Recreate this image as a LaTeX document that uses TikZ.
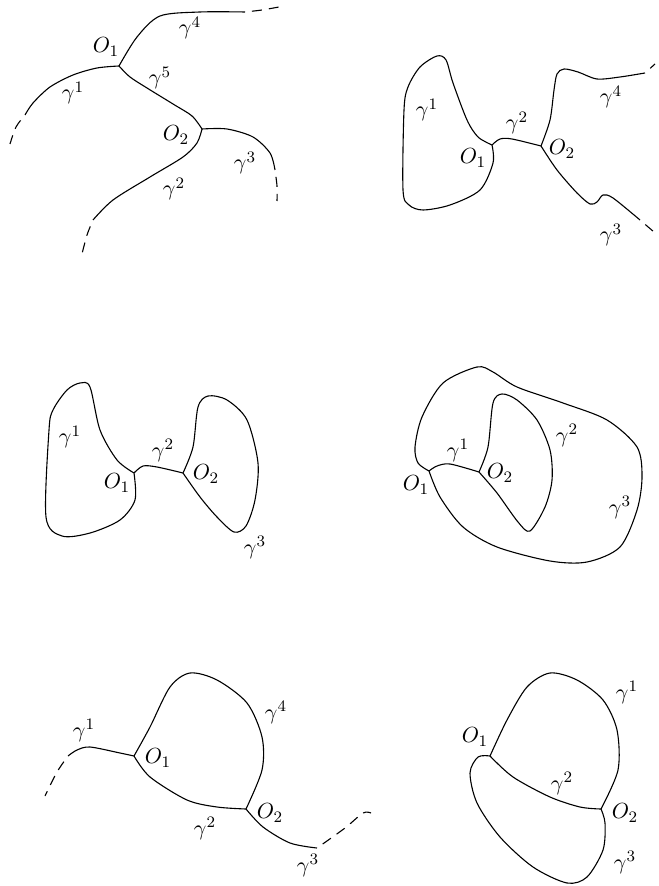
\documentclass[tikz,border=0pt]{standalone}
\usetikzlibrary{positioning}

\begin{document}
\begin{tikzpicture}[
    x=0.5pt, y=-0.5pt,
    curve/.style={line width=0.55pt, line join=round},
    tail/.style={line width=0.55pt, dash pattern=on 5pt off 3.5pt, dash phase=5pt},
    lbl/.style={inner sep=1pt, font=\fontsize{11}{13}\selectfont}
]
    \useasboundingbox (0,0) rectangle (658,886);

    % Top left: two junctions, five arcs
    \coordinate (O1a) at (119,66);
    \coordinate (O2a) at (202,129);
    \coordinate (e1a) at (25,115);
    \coordinate (e2a) at (93,220);
    \coordinate (e3a) at (275,170);
    \coordinate (e4a) at (245,12);
    \draw[curve] plot[smooth] coordinates {(O1a) (137,37) (160,16) (200,12) (e4a)};
    \draw[curve] plot[smooth] coordinates {(O1a) (97,68) (73,75) (50,87) (33,103) (e1a)};
    \draw[curve] plot[smooth] coordinates {(O1a) (130,77) (147,88) (173,104) (192,116) (O2a)};
    \draw[curve] plot[smooth] coordinates {(O2a) (227,129) (253,137) (270,153) (e3a)};
    \draw[curve] plot[smooth] coordinates {(O2a) (197,143) (183,157) (150,177) (113,200) (e2a)};
    \draw[tail] plot[smooth] coordinates {(e4a) (262,10) (279,7)};
    \draw[tail] plot[smooth] coordinates {(e1a) (16,127) (10,144)};
    \draw[tail] plot[smooth] coordinates {(e2a) (87,235) (82,254)};
    \draw[tail] plot[smooth] coordinates {(e3a) (277,186) (277,201)};
    \node[lbl] (o1a) at (106,47) {$O_1$};
    \node[lbl] (o2a) at (176,135) {$O_2$};
    \node[lbl] (g1a) at (73,93) {$\gamma^1$};
    \node[lbl] (g2a) at (174,189) {$\gamma^2$};
    \node[lbl] (g3a) at (245,163) {$\gamma^3$};
    \node[lbl] (g4a) at (190,28) {$\gamma^4$};
    \node[lbl] (g5a) at (160,78) {$\gamma^5$};

    % Top right: a loop at O1, two open arcs at O2
    \coordinate (O1b) at (492,145);
    \coordinate (O2b) at (541,146);
    \coordinate (e3b) at (640,220);
    \coordinate (e4b) at (645,73);
    \draw[curve] plot[smooth] coordinates {(O1b) (478,137) (467,120) (453,83) (446,60) (437,56) (420,67) (408,87) (404,110) (403,190) (409,205) (423,210) (450,205) (480,190) (493,163) (O1b)};
    \draw[curve] plot[smooth] coordinates {(O1b) (500,139) (512,139) (O2b)};
    \draw[curve] plot[smooth] coordinates {(O2b) (550,120) (554,90) (557,74) (564,69) (578,72) (597,79) (620,77) (e4b)};
    \draw[curve] plot[smooth] coordinates {(O2b) (557,170) (577,193) (590,204) (597,202) (603,195) (613,198) (e3b)};
    \draw[tail] (e4b) -- (655,64);
    \draw[tail] (e3b) -- (654,232);
    \node[lbl] (o1b) at (473,158) {$O_1$};
    \node[lbl] (o2b) at (562,149) {$O_2$};
    \node[lbl] (g1b) at (427,110) {$\gamma^1$};
    \node[lbl] (g2b) at (517,123) {$\gamma^2$};
    \node[lbl] (g3b) at (611,235) {$\gamma^3$};
    \node[lbl] (g4b) at (611,97) {$\gamma^4$};

    % Middle left: two loops joined by one arc
    \coordinate (O1c) at (134,473);
    \coordinate (O2c) at (183,473);
    \draw[curve] plot[smooth] coordinates {(O1c) (117,460) (100,430) (90,387) (80,383) (67,390) (53,410) (49,430) (46,517) (62,536) (90,533) (120,520) (135,500) (O1c)};
    \draw[curve] plot[smooth] coordinates {(O1c) (143,466) (157,467) (O2c)};
    \draw[curve] plot[smooth] coordinates {(O2c) (193,447) (198,407) (208,396) (227,400) (247,420) (258,463) (255,500) (246,526) (234,532) (217,517) (200,497) (O2c)};
    \node[lbl] (o1c) at (117,483) {$O_1$};
    \node[lbl] (o2c) at (206,474) {$O_2$};
    \node[lbl] (g1c) at (70,437) {$\gamma^1$};
    \node[lbl] (g2c) at (163,450) {$\gamma^2$};
    \node[lbl] (g3c) at (255,547) {$\gamma^3$};

    % Middle right: nested loops
    \coordinate (O1d) at (429,471);
    \coordinate (O2d) at (479,472);
    \draw[curve] plot[smooth] coordinates {(O1d) (418,463) (415,447) (422,417) (443,383) (477,367) (493,372) (517,387) (563,403) (607,420) (637,447) (642,477) (637,510) (620,547) (587,562) (550,561) (497,547) (463,527) (440,497) (O1d)};
    \draw[curve] plot[smooth] coordinates {(O1d) (437,466) (450,464) (O2d)};
    \draw[curve] plot[smooth] coordinates {(O2d) (488,447) (493,403) (502,394) (517,400) (537,420) (550,450) (552,480) (545,507) (530,531) (518,522) (497,493) (O2d)};
    \node[lbl] (o1d) at (416,485) {$O_1$};
    \node[lbl] (o2d) at (500,473) {$O_2$};
    \node[lbl] (g1d) at (458,450) {$\gamma^1$};
    \node[lbl] (g2d) at (567,435) {$\gamma^2$};
    \node[lbl] (g3d) at (620,507) {$\gamma^3$};

    % Bottom left: one loop, two open arcs
    \coordinate (O1e) at (134,756);
    \coordinate (O2e) at (246,809);
    \coordinate (e1e) at (68,756);
    \coordinate (e3e) at (317,848);
    \draw[curve] plot[smooth] coordinates {(O1e) (150,727) (170,687) (190,673) (217,680) (247,703) (262,737) (262,770) (O2e)};
    \draw[curve] plot[smooth] coordinates {(O1e) (120,753) (90,747) (77,750) (e1e)};
    \draw[curve] plot[smooth] coordinates {(O1e) (150,777) (187,800) (217,807) (O2e)};
    \draw[curve] plot[smooth] coordinates {(O2e) (263,827) (290,843) (e3e)};
    \draw[tail] plot[smooth] coordinates {(e1e) (57,772) (45,796)};
    \draw[tail] plot[smooth] coordinates {(e3e) (345,828) (363,813) (371,813)};
    \node[lbl] (o1e) at (158,758) {$O_1$};
    \node[lbl] (o2e) at (270,813) {$O_2$};
    \node[lbl] (g1e) at (84,730) {$\gamma^1$};
    \node[lbl] (g2e) at (205,828) {$\gamma^2$};
    \node[lbl] (g3e) at (308,865) {$\gamma^3$};
    \node[lbl] (g4e) at (276,712) {$\gamma^4$};

    % Bottom right: three arcs between O1 and O2
    \coordinate (O1f) at (490,756);
    \coordinate (O2f) at (601,809);
    \draw[curve] plot[smooth] coordinates {(O1f) (507,720) (527,687) (550,673) (577,680) (603,700) (617,730) (618,770) (O2f)};
    \draw[curve] plot[smooth] coordinates {(O1f) (513,777) (550,797) (580,807) (O2f)};
    \draw[curve] plot[smooth] coordinates {(O1f) (478,757) (470,773) (477,803) (500,837) (533,867) (567,883) (587,877) (603,850) (605,823) (O2f)};
    \node[lbl] (o1f) at (475,737) {$O_1$};
    \node[lbl] (o2f) at (625,813) {$O_2$};
    \node[lbl] (g1f) at (627,692) {$\gamma^1$};
    \node[lbl] (g2f) at (562,783) {$\gamma^2$};
    \node[lbl] (g3f) at (625,862) {$\gamma^3$};
\end{tikzpicture}
\end{document}
